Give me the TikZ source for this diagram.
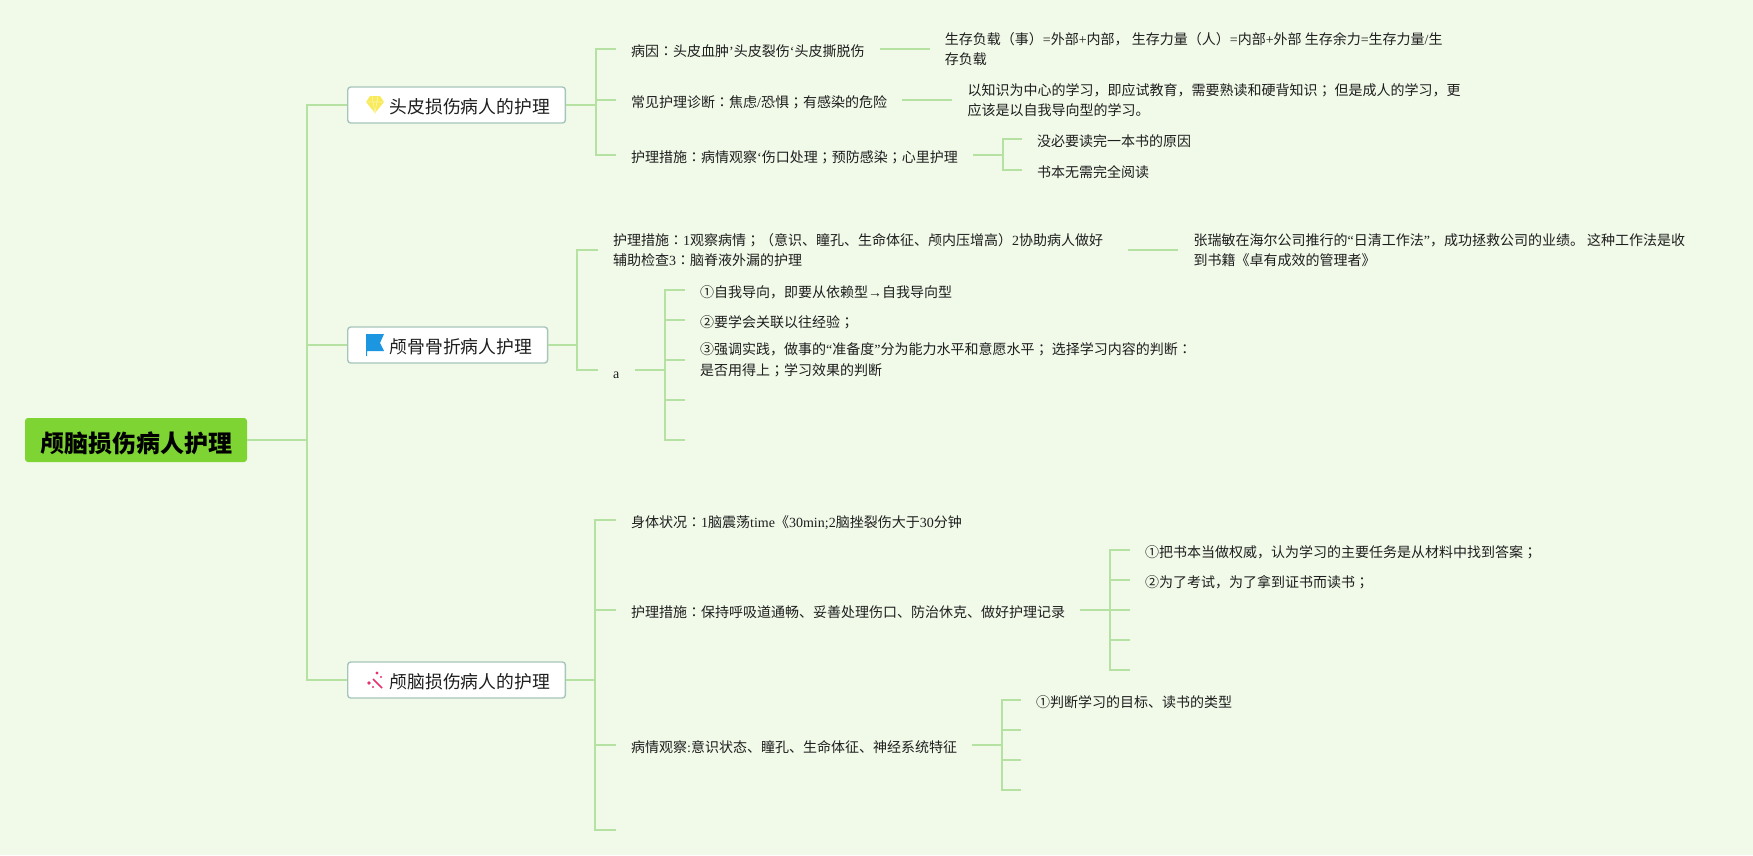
\documentclass[tikz,border=0pt]{standalone}
\usepackage{fontspec}
\setmainfont{Noto Sans CJK SC}
\newfontfamily\enfont{Liberation Serif}
\newfontfamily\tcfont{Noto Sans CJK TC}
\newcommand{\en}[1]{{\enfont #1}}
\newcommand{\mh}{{\tcfont ：}}
\newcommand{\fh}{{\tcfont ；}}
\usetikzlibrary{positioning}
\definecolor{paper}{HTML}{F1FAE9}
\definecolor{linkgreen}{HTML}{B5E2A2}
\definecolor{rootgreen}{HTML}{7ED432}
\definecolor{topicline}{HTML}{A6C6BC}
\definecolor{inkgrey}{HTML}{1E1E1E}
\definecolor{gemyellow}{HTML}{F9EA5A}
\definecolor{flagblue}{HTML}{1C96E0}
\definecolor{sparkpink}{HTML}{E9306F}
\tikzset{
    link/.style={draw=linkgreen, line width=2pt},
    rootnode/.style={fill=rootgreen, rounded corners=3pt, inner xsep=15pt, minimum height=44pt, font=\fontsize{24}{28}\selectfont\bfseries, text=black, execute at begin node={\rule{0pt}{27pt}}},
    topic/.style={draw=topicline, fill=white, line width=1.4pt, rounded corners=3pt, anchor=west, inner xsep=15.5pt, minimum height=36pt, font=\fontsize{17.8}{22}\selectfont, text=inkgrey, execute at begin node={\rule{0pt}{19pt}\hspace*{26.5pt}}},
    txt/.style={anchor=west, align=left, inner xsep=15pt, inner ysep=0pt, font=\fontsize{14}{20.5}\selectfont, text=inkgrey, execute at begin node={\rule{0pt}{16.5pt}}},
}
\begin{document}
\begin{tikzpicture}[x=1pt,y=-1pt]
    \fill[paper] (0,0) rectangle (1753,855);
    \useasboundingbox (0,0) rectangle (1753,855);

    \node (root) [rootnode] at (136,440) {颅脑损伤病人护理};
    \node (scalp) [topic] at (347,105) {头皮损伤病人的护理};
    \node (skull) [topic] at (347,345) {颅骨骨折病人护理};
    \node (brain) [topic] at (347,680) {颅脑损伤病人的护理};
    \coordinate (trunk) at (307,440);
    \draw[link] (root.east) -- (trunk);
    \draw[link] (scalp.west) -| (trunk);
    \draw[link] (skull.west) -- (skull.west -| trunk);
    \draw[link] (brain.west) -| (trunk);

    \fill[gemyellow] (370,96) -- (380,96) -- (384,102) -- (375,113) -- (366,102) -- cycle;
    \draw[white!50!gemyellow, line width=0.6pt] (366,102) -- (384,102) (372,96) -- (375,113) -- (378,96);
    \fill[flagblue] (366,334) -- (384,334) -- (380,343) -- (384,351) -- (367,351) -- (367,356) -- (366,356) -- cycle;
    \draw[sparkpink, line width=1.5pt] (373,679) -- (382,688);
    \fill[sparkpink] (377,673) circle (1.6pt) (381,677) circle (1.2pt) (369,683) circle (1.8pt) (373,687) circle (1.2pt);

    \coordinate (scalpfork) at (596,105);
    \draw[link] (scalp.east) -- (scalpfork);
    \node (cause) [txt] at (616,49) {病因\mh 头皮血肿\en{’}头皮裂伤\en{‘}头皮撕脱伤};
    \node (burden) [txt, right=50pt of cause] {生存负载（事）\en{=}外部\en{+}内部， 生存力量（人）\en{=}内部\en{+}外部 生存余力\en{=}生存力量\en{/}生\\存负载};
    \node (diag) [txt] at (616,100) {常见护理诊断\mh 焦虑\en{/}恐惧\fh 有感染的危险};
    \node (adult) [txt, right=50pt of diag] {以知识为中心的学习，即应试教育，需要熟读和硬背知识\fh{} 但是成人的学习，更\\应该是以自我导向型的学习。};
    \node (care) [txt] at (616,155) {护理措施\mh 病情观察\en{‘}伤口处理\fh 预防感染\fh 心里护理};
    \coordinate[right=30pt of care] (carefork);
    \node (whole) [txt] at (1022,139) {没必要读完一本书的原因};
    \node (noneed) [txt] at (1022,170) {书本无需完全阅读};
    \draw[link] (cause.west) -| (scalpfork);
    \draw[link] (diag.west) -- (diag.west -| scalpfork);
    \draw[link] (care.west) -| (scalpfork);
    \draw[link] (cause) -- (burden);
    \draw[link] (diag) -- (adult);
    \draw[link] (care) -- (carefork);
    \draw[link] (whole.west) -| (carefork);
    \draw[link] (noneed.west) -| (carefork);

    \coordinate (skullfork) at (577,345);
    \draw[link] (skull.east) -- (skullfork);
    \node (nurse) [txt] at (598,250) {护理措施\mh \en{1}观察病情\fh （意识、瞳孔、生命体征、颅内压增高）\en{2}协助病人做好\hspace*{10pt}\\辅助检查\en{3}\mh 脑脊液外漏的护理};
    \node (haier) [txt, right=50pt of nurse] {张瑞敏在海尔公司推行的\en{“}日清工作法\en{”}，成功拯救公司的业绩。 这种工作法是收\\到书籍《卓有成效的管理者》};
    \node (a) [txt] at (598,370) {\en{a}};
    \coordinate[right=30pt of a] (afork);
    \node (self) [txt] at (685,290) {①自我导向，即要从依赖型\en{→}自我导向型};
    \node (past) [txt] at (685,320) {②要学会关联以往经验\fh };
    \node (ready) [txt] at (685,360) {③强调实践，做事的\en{“}准备度\en{”}分为能力水平和意愿水平\fh{} 选择学习内容的判断\mh \\是否用得上\fh 学习效果的判断};
    \draw[link] (nurse.west) -| (skullfork);
    \draw[link] (a.west) -| (skullfork);
    \draw[link] (nurse) -- (haier);
    \draw[link] (a) -- (afork);
    \draw[link] (self.west) -| (afork);
    \draw[link] (past.west) -| (afork);
    \draw[link] (ready.west) -| (afork);
    \foreach \n/\y in {afour/400,afive/440} {
        \coordinate (\n) at (685,\y);
        \draw[link] (\n) -| (afork);
    }

    \coordinate (brainfork) at (595,680);
    \coordinate (brainend) at (616,830);
    \draw[link] (brain.east) -- (brainfork);
    \node (body) [txt] at (616,520) {身体状况\mh \en{1}脑震荡\en{time}《\en{30min;2}脑挫裂伤大于\en{30}分钟};
    \node (acute) [txt] at (616,610) {护理措施\mh 保持呼吸道通畅、妥善处理伤口、防治休克、做好护理记录};
    \coordinate[right=30pt of acute] (acutefork);
    \node (authority) [txt] at (1130,550) {①把书本当做权威，认为学习的主要任务是从材料中找到答案\fh };
    \node (exam) [txt] at (1130,580) {②为了考试，为了拿到证书而读书\fh };
    \node (watch) [txt] at (616,745) {病情观察\en{:}意识状态、瞳孔、生命体征、神经系统特征};
    \coordinate[right=30pt of watch] (watchfork);
    \node (goal) [txt] at (1021,700) {①判断学习的目标、读书的类型};
    \draw[link] (body.west) -| (brainfork);
    \draw[link] (acute.west) -| (brainfork);
    \draw[link] (watch.west) -| (brainfork);
    \draw[link] (brainend) -| (brainfork);
    \draw[link] (acute) -- (acutefork);
    \draw[link] (authority.west) -| (acutefork);
    \draw[link] (exam.west) -| (acutefork);
    \draw[link] (watch) -- (watchfork);
    \draw[link] (goal.west) -| (watchfork);
    \foreach \n/\y in {acthree/610,acfour/640,acfive/670} {
        \coordinate (\n) at (1130,\y);
        \draw[link] (\n) -| (acutefork);
    }
    \foreach \n/\y in {wtwo/730,wthree/760,wfour/790} {
        \coordinate (\n) at (1021,\y);
        \draw[link] (\n) -| (watchfork);
    }
\end{tikzpicture}
\end{document}
